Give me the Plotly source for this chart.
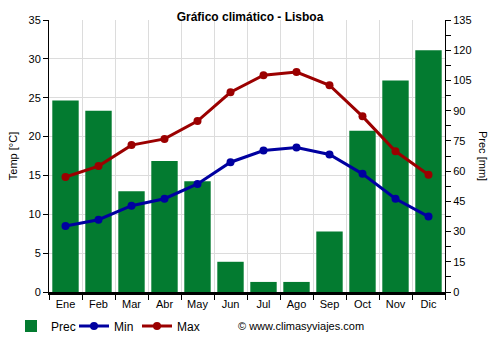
import plotly.graph_objects as go

months = ["Ene", "Feb", "Mar", "Abr", "May", "Jun", "Jul", "Ago", "Sep", "Oct", "Nov", "Dic"]
prec = [95, 90, 50, 65, 55, 15, 5, 5, 30, 80, 105, 120]
tmin = [8.5, 9.3, 11.1, 12.0, 13.9, 16.7, 18.2, 18.6, 17.7, 15.2, 12.0, 9.7]
tmax = [14.8, 16.2, 18.9, 19.7, 22.0, 25.7, 27.9, 28.3, 26.6, 22.6, 18.1, 15.1]

x = list(range(len(months)))
font = "Liberation Sans, Arial, sans-serif"

fig = go.Figure()
fig.add_trace(go.Bar(x=x, y=prec, name="Prec", marker_color="#037b30",
                     marker_line_width=0, yaxis="y", width=0.8))
fig.add_trace(go.Scatter(x=x, y=tmin, name="Min", mode="lines+markers",
                         line=dict(color="#0000a0", width=3),
                         marker=dict(size=8, color="#0000a0"), yaxis="y2"))
fig.add_trace(go.Scatter(x=x, y=tmax, name="Max", mode="lines+markers",
                         line=dict(color="#9b0000", width=3),
                         marker=dict(size=8, color="#9b0000"), yaxis="y2"))

fig.update_layout(
    width=500, height=350,
    margin=dict(l=49, r=55, t=20, b=58, autoexpand=False),
    paper_bgcolor="white", plot_bgcolor="white",
    font=dict(family=font, size=11, color="#000"),
    title=dict(text="<b>Gráfico climático - Lisboa</b>", x=0.5, xanchor="center",
               y=1 - 17 / 350, yanchor="middle", font=dict(size=12, color="#000")),
    showlegend=True,
    legend=dict(orientation="h", x=(11 - 49) / 396, y=1 - 326 / 350, yref="container",
                xanchor="left", yanchor="middle",
                font=dict(size=12), entrywidth=18, entrywidthmode="pixels",
                tracegroupgap=0),
    bargap=0.2,
    xaxis=dict(range=[-0.5, 11.5], tickvals=x, ticktext=months, ticks="",
               showgrid=False, zeroline=False, showline=True, linecolor="#000",
               linewidth=3, tickfont=dict(size=11),
               minor=dict(tick0=-0.5, dtick=1, ticks="outside", ticklen=5,
                          tickcolor="#000", showgrid=True, gridcolor="#dcdcdc",
                          gridwidth=1)),
    yaxis=dict(side="right", range=[0, 135], dtick=15, ticks="outside", ticklen=5,
               tickcolor="#000", showline=True, linecolor="#000", linewidth=1,
               showgrid=False, zeroline=False, tickfont=dict(size=11),
               minor=dict(dtick=7.5, ticks="outside", ticklen=5, tickcolor="#000")),
    yaxis2=dict(side="left", overlaying="y", range=[0, 35], dtick=5, ticks="outside",
                ticklen=5, tickcolor="#000", showline=True, linecolor="#000",
                linewidth=1, showgrid=True, gridcolor="#dcdcdc", zeroline=False,
                tickfont=dict(size=11),
                title=dict(text="Temp [°C]", font=dict(size=11), standoff=8)),
)

fig.add_annotation(text="Prec [mm]", textangle=90, xref="paper", yref="paper",
                   x=1 + 38 / 396, y=0.5, showarrow=False, font=dict(size=11),
                   xanchor="center", yanchor="middle")
fig.add_annotation(text="© www.climasyviajes.com", xref="paper", yref="paper",
                   x=(236 - 49) / 396, y=-(326 - 292) / 272, xanchor="left",
                   yanchor="middle", showarrow=False, font=dict(size=11))

fig.write_html("out.html")
